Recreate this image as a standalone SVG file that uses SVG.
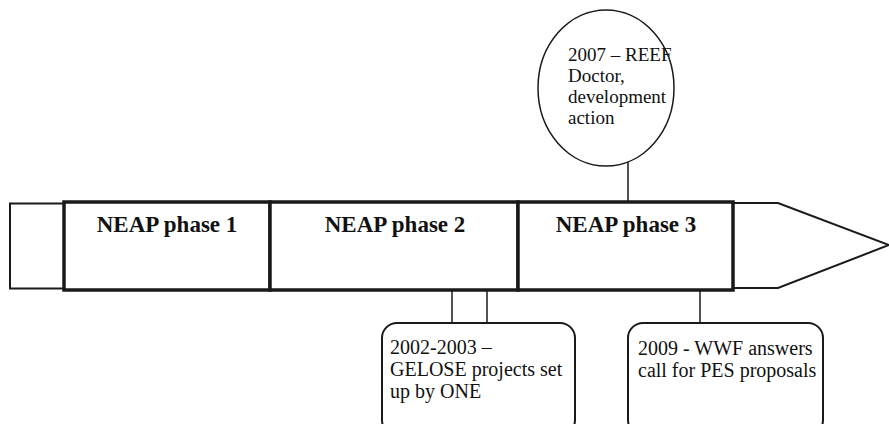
<svg xmlns="http://www.w3.org/2000/svg" width="889" height="424" viewBox="0 0 889 424">
<style>
.bg{fill:#ffffff}
.thin{fill:#ffffff;stroke:#1a1a1a;stroke-width:2}
.thick{fill:#ffffff;stroke:#1a1a1a;stroke-width:3.5}
.conn{stroke:#1a1a1a;stroke-width:1.5;fill:none}
.lab{font-family:"Liberation Serif","Times New Roman",serif;font-size:20px;fill:#111111}
.phase{font-family:"Liberation Serif","Times New Roman",serif;font-size:23px;font-weight:bold;fill:#111111;text-anchor:middle}
</style>
<rect class="bg" x="0" y="0" width="889" height="424"/>
<g id="arrow-body">
<rect class="thin" x="10" y="203.5" width="54" height="85"/>
<polyline class="thin" points="733,203 778,203 889,245 778,288 733,288"/>
</g>
<g id="connectors">
<line class="conn" x1="628" y1="162" x2="628" y2="202"/>
<line class="conn" x1="452" y1="290" x2="452" y2="323"/>
<line class="conn" x1="487" y1="290" x2="487" y2="323"/>
<line class="conn" x1="700" y1="290" x2="700" y2="323"/>
</g>
<g id="phase1">
<rect class="thick" x="64" y="202" width="206" height="88"/>
<text class="phase" x="167" y="232">NEAP phase 1</text>
</g>
<g id="phase2">
<rect class="thick" x="270" y="202" width="248" height="88"/>
<text class="phase" x="395" y="232">NEAP phase 2</text>
</g>
<g id="phase3">
<rect class="thick" x="518" y="202" width="215" height="88"/>
<text class="phase" x="626" y="232">NEAP phase 3</text>
</g>
<g id="event2007">
<ellipse class="thin" cx="606" cy="88" rx="68" ry="78" style="stroke-width:1.5"/>
<text class="lab" x="568" y="61" style="font-size:19px">2007 – REEF</text>
<text class="lab" x="568" y="82" style="font-size:19px">Doctor,</text>
<text class="lab" x="568" y="103" style="font-size:19px">development</text>
<text class="lab" x="568" y="124" style="font-size:19px">action</text>
</g>
<g id="event2002">
<rect class="thin" x="382" y="323" width="193" height="112" rx="15"/>
<text class="lab" x="390" y="354">2002-2003 –</text>
<text class="lab" x="390" y="376">GELOSE projects set</text>
<text class="lab" x="390" y="398">up by ONE</text>
</g>
<g id="event2009">
<rect class="thin" x="628" y="323" width="195" height="112" rx="15"/>
<text class="lab" x="638" y="355">2009 - WWF answers</text>
<text class="lab" x="638" y="377">call for PES proposals</text>
</g>
</svg>
